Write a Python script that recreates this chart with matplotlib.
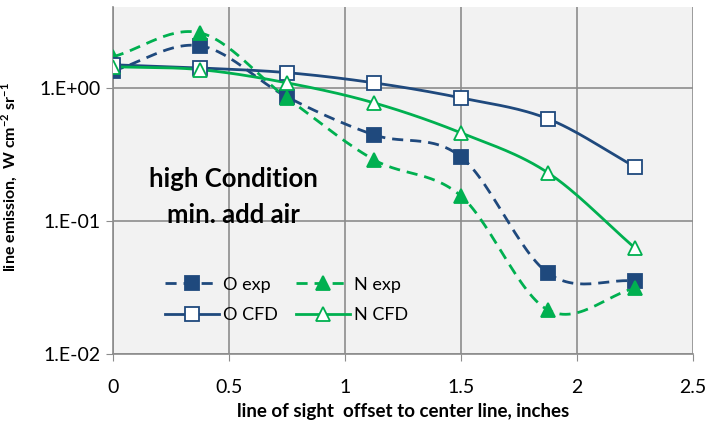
import matplotlib.pyplot as plt
import numpy as np

plt.rcParams['font.family'] = ['Lato', 'DejaVu Sans']
plt.rcParams['mathtext.fontset'] = 'custom'
plt.rcParams['mathtext.rm'] = 'Lato'
plt.rcParams['mathtext.bf'] = 'Lato:bold'

x = [0, 0.375, 0.75, 1.125, 1.5, 1.875, 2.25]
o_exp = [1.34, 2.07, 0.855, 0.443, 0.303, 0.0406, 0.0354]
n_exp = [1.71, 2.59, 0.84, 0.288, 0.154, 0.0214, 0.0313]
o_cfd = [1.49, 1.41, 1.30, 1.09, 0.84, 0.585, 0.255]
n_cfd = [1.44, 1.37, 1.09, 0.771, 0.459, 0.23, 0.0626]

blue = '#1F497D'
green = '#00B050'


def smooth(xs, ys, n=30):
    # catmull-rom path in (x, log y), like excel's smoothed line
    px = np.array(xs, float)
    py = np.log10(ys)
    px = np.concatenate([[2 * px[0] - px[1]], px, [2 * px[-1] - px[-2]]])
    py = np.concatenate([[2 * py[0] - py[1]], py, [2 * py[-1] - py[-2]]])
    ox, oy = [], []
    t = np.linspace(0, 1, n)
    for i in range(1, len(px) - 2):
        for p, out in ((px, ox), (py, oy)):
            p0, p1, p2, p3 = p[i - 1], p[i], p[i + 1], p[i + 2]
            out.extend(0.5 * ((2 * p1) + (-p0 + p2) * t
                              + (2 * p0 - 5 * p1 + 4 * p2 - p3) * t ** 2
                              + (-p0 + 3 * p1 - 3 * p2 + p3) * t ** 3))
    return np.array(ox), 10 ** np.array(oy)


fig = plt.figure(figsize=(7.1, 4.26), dpi=100)
ax = fig.add_axes([0.159, 0.169, 0.817, 0.815])
ax.set_facecolor('#F2F2F2')

series = [
    (o_exp, blue, 's', blue, (0, (4, 2.5)), 'O exp'),
    (n_exp, green, '^', green, (0, (4, 2.5)), 'N exp'),
    (o_cfd, blue, 's', 'white', '-', 'O CFD'),
    (n_cfd, green, '^', 'white', '-', 'N CFD'),
]
handles = []
for ys, c, m, fc, ls, lab in series:
    sx, sy = smooth(x, ys)
    ax.plot(sx, sy, color=c, lw=2, ls=ls, zorder=3)
    ax.plot(x, ys, ls='none', marker=m, ms=10, mfc=fc, mec=c, mew=1.3, zorder=4)
    h, = ax.plot([], [], color=c, lw=2, ls=ls, marker=m, ms=10, mfc=fc, mec=c, mew=1.3, label=lab)
    handles.append(h)

ax.set_yscale('log')
ax.set_ylim(0.01, 4.06)
ax.set_xlim(0, 2.5)
ax.set_xticks([0, 0.5, 1, 1.5, 2, 2.5])
ax.set_xticklabels(['0', '0.5', '1', '1.5', '2', '2.5'])
ax.set_yticks([0.01, 0.1, 1])
ax.set_yticklabels(['1.E-02', '1.E-01', '1.E+00'])
ax.yaxis.set_minor_locator(plt.NullLocator())
ax.grid(True, color='#8C8C8C', lw=1.2)
ax.set_axisbelow(True)
for s in ['top', 'right']:
    ax.spines[s].set_visible(False)
for s in ['left', 'bottom']:
    ax.spines[s].set_color('#8C8C8C')
    ax.spines[s].set_linewidth(1.2)
ax.tick_params(axis='x', length=5, color='#8C8C8C', pad=13, labelsize=14)
ax.tick_params(axis='y', length=5, color='#8C8C8C', pad=4, labelsize=14)

ax.set_xlabel('line of sight  offset to center line, inches', fontsize=13.5, fontweight='bold', labelpad=5)
ax.set_ylabel('line emission,  W cm$^{\\mathbf{-2}}$ sr$^{\\mathbf{-1}}$', fontsize=11.5, fontweight='bold')
ax.yaxis.set_label_coords(-0.16, 0.51)

ax.text(0.52, 0.205, 'high Condition', fontsize=18.5, fontweight='bold', ha='center', va='center')
ax.text(0.52, 0.11, 'min. add air', fontsize=18.5, fontweight='bold', ha='center', va='center')

ax.legend(handles=handles[:1] + handles[2:3] + handles[1:2] + handles[3:], ncol=2, frameon=False,
          loc='upper left', bbox_to_anchor=(0.062, 0.27), fontsize=13, handlelength=3.0,
          handletextpad=0.2, columnspacing=1.0, labelspacing=0.8)

fig.savefig('out.png', dpi=100)
